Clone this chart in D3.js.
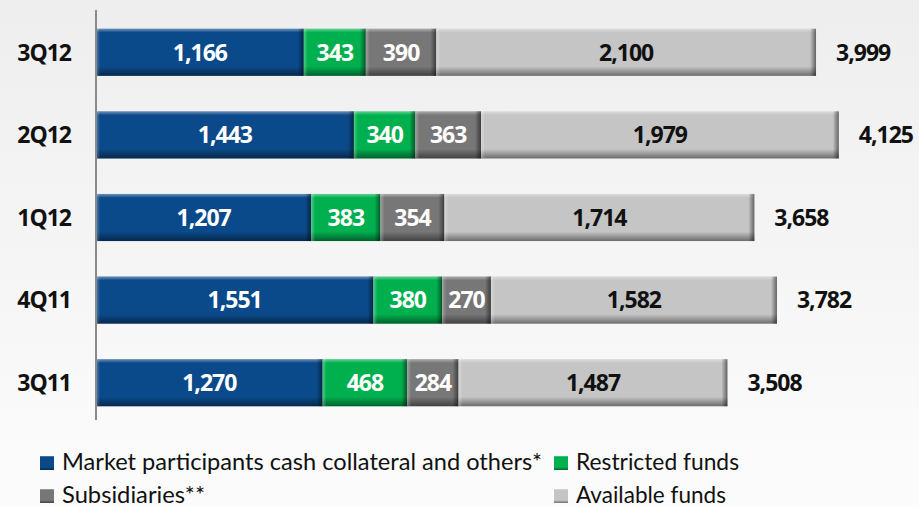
<!DOCTYPE html>
<html><head><meta charset="utf-8">
<script src="https://cdn.jsdelivr.net/npm/d3@7"></script>
<style>html,body{margin:0;padding:0;background:#f4f4f4;}svg{display:block;}</style>
</head><body>
<div id="chart"></div>
<script>
const categories = ["3Q12","2Q12","1Q12","4Q11","3Q11"];
const marketParticipants = [1166,1443,1207,1551,1270];
const restrictedFunds   = [343,340,383,380,468];
const subsidiaries      = [390,363,354,270,284];
const availableFunds    = [2100,1979,1714,1582,1487];
const totals            = [3999,4125,3658,3782,3508];
const seriesNames = ["Market participants cash collateral and others*","Restricted funds","Subsidiaries**","Available funds"];
const seriesColors = ["#0b4a8a","#00b04f","#777777","#c5c5c5"];
const labelColors = ["#ffffff","#ffffff","#ffffff","#111111"];

const W = 919, H = 507;
const svg = d3.select("#chart").append("svg").attr("width", W).attr("height", H);
const defs = svg.append("defs");

const bg = defs.append("linearGradient").attr("id","bg").attr("x1",0).attr("y1",0).attr("x2",0).attr("y2",1);
bg.append("stop").attr("offset","0%").attr("stop-color","#eeeeee");
bg.append("stop").attr("offset","100%").attr("stop-color","#fcfcfc");
svg.append("rect").attr("width",W).attr("height",H).attr("fill","url(#bg)");

const vg = defs.append("linearGradient").attr("id","vbevel").attr("x1",0).attr("y1",0).attr("x2",0).attr("y2",1);
[["0%","#ffffff",0.4],["8%","#ffffff",0],["80%","#000000",0],["100%","#000000",0.45]].forEach(s=>
  vg.append("stop").attr("offset",s[0]).attr("stop-color",s[1]).attr("stop-opacity",s[2]));
const rg = defs.append("linearGradient").attr("id","rbevel").attr("x1",0).attr("y1",0).attr("x2",1).attr("y2",0);
[["0%","#000000",0],["100%","#000000",0.5]].forEach(s=>
  rg.append("stop").attr("offset",s[0]).attr("stop-color",s[1]).attr("stop-opacity",s[2]));
const lg = defs.append("linearGradient").attr("id","lbevel").attr("x1",0).attr("y1",0).attr("x2",1).attr("y2",0);
[["0%","#ffffff",0.3],["100%","#ffffff",0]].forEach(s=>
  lg.append("stop").attr("offset",s[0]).attr("stop-color",s[1]).attr("stop-opacity",s[2]));

const axisX = 96;
const x = d3.scaleLinear().domain([0,4500]).range([93, 93 + 4500*0.1808]);
const y = d3.scaleBand().domain(categories).range([11,424]).paddingInner(0.43).paddingOuter(0.215);

const seriesData = [marketParticipants, restrictedFunds, subsidiaries, availableFunds];
const rows = categories.map((c,i)=>{
  let acc = 0;
  const segs = seriesData.map((arr,k)=>{ const s={k, v:arr[i], x0:acc, x1:acc+arr[i]}; acc+=arr[i]; return s; });
  return {c, i, segs};
});

const bfont = "'Open Sans', Lato, sans-serif";
const font = "Lato, 'Open Sans', sans-serif";
const fs = 23;
const g = svg.append("g");
rows.forEach(r=>{
  const yy = y(r.c), bh = y.bandwidth();
  r.segs.forEach(s=>{
    const x0 = Math.max(x(s.x0), axisX), x1 = x(s.x1), w = x1-x0;
    const sg = g.append("g");
    sg.append("rect").attr("x",x0).attr("y",yy).attr("width",w).attr("height",bh).attr("fill",seriesColors[s.k]);
    sg.append("rect").attr("x",x0).attr("y",yy).attr("width",w).attr("height",bh).attr("fill","url(#vbevel)");
    sg.append("rect").attr("x",x0).attr("y",yy).attr("width",4).attr("height",bh).attr("fill","url(#lbevel)");
    sg.append("rect").attr("x",x1-6).attr("y",yy).attr("width",6).attr("height",bh).attr("fill","url(#rbevel)");
    sg.append("text").attr("x",(x0+x1)/2).attr("y",yy+bh/2).attr("dy","0.36em")
      .attr("text-anchor","middle").attr("font-family",bfont).attr("font-weight","bold")
      .attr("font-size",fs).attr("letter-spacing",-1).attr("fill",labelColors[s.k]).text(d3.format(",")(s.v));
  });
  g.append("text").attr("x",x(r.segs[3].x1)+20).attr("y",yy+bh/2).attr("dy","0.36em")
    .attr("font-family",bfont).attr("font-weight","bold").attr("font-size",fs).attr("letter-spacing",-1).attr("fill","#111")
    .text(d3.format(",")(totals[r.i]));
  g.append("text").attr("x",71).attr("y",yy+bh/2).attr("dy","0.36em").attr("text-anchor","end")
    .attr("font-family",bfont).attr("font-weight","bold").attr("font-size",fs).attr("letter-spacing",-1).attr("fill","#111")
    .text(r.c);
});

svg.append("line").attr("x1",axisX).attr("x2",axisX).attr("y1",10).attr("y2",420)
  .attr("stroke","#8a8a8a").attr("stroke-width",2);

// legend
const legPos = [[40,456,480],[554,456,163],[40,489,143],[554,489,150]];
seriesNames.forEach((n,k)=>{
  const [lx,ly,tl] = legPos[k];
  svg.append("rect").attr("x",lx).attr("y",ly).attr("width",14).attr("height",14).attr("fill",seriesColors[k]);
  svg.append("rect").attr("x",lx).attr("y",ly).attr("width",14).attr("height",14).attr("fill","url(#vbevel)");
  svg.append("text").attr("x",lx+22).attr("y",ly+14).attr("font-family",font).attr("font-size",23)
    .attr("fill","#111").attr("textLength",tl).attr("lengthAdjust","spacingAndGlyphs").text(n);
});
</script>
</body></html>
